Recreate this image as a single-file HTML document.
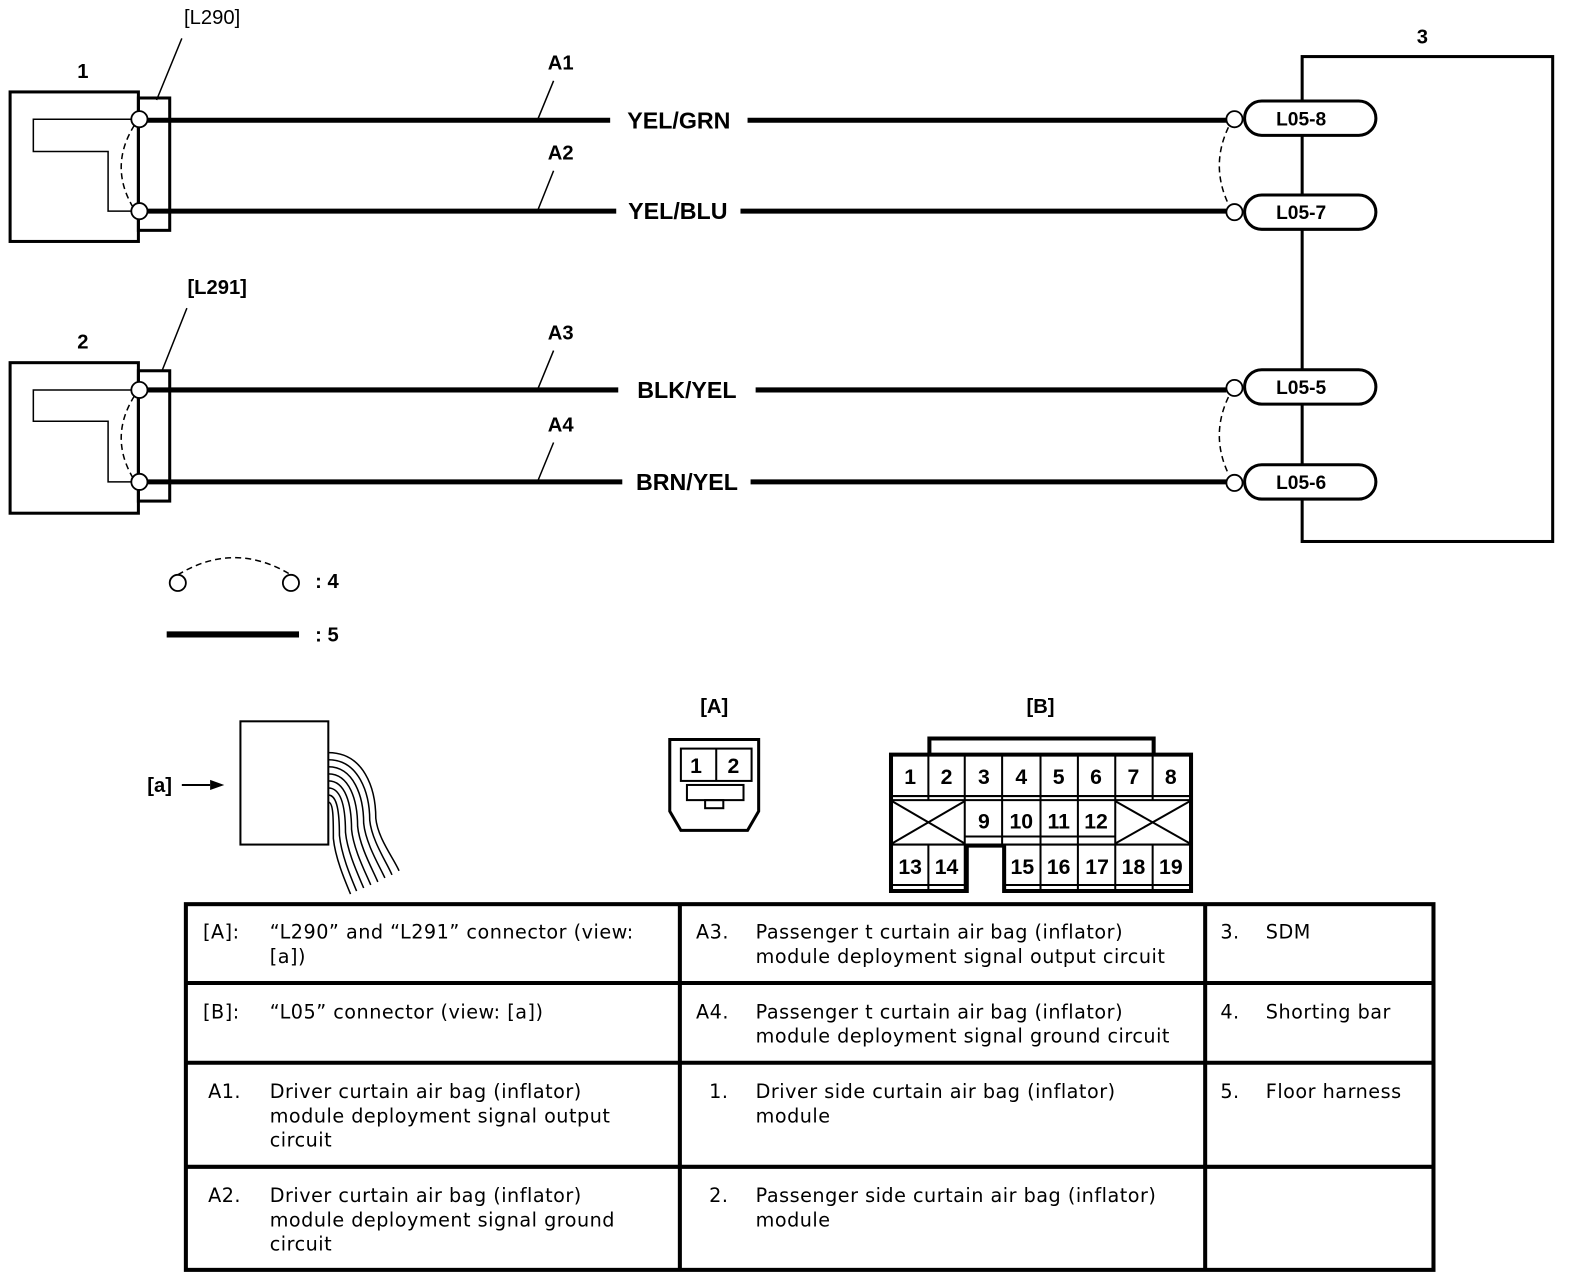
<!DOCTYPE html>
<html><head><meta charset="utf-8"><style>
html,body{margin:0;padding:0;background:#fff;}
svg{display:block;}
.b{font-family:"Liberation Sans",Arial,sans-serif;font-weight:bold;fill:#000;}
.t{font-family:"DejaVu Sans",Verdana,sans-serif;font-size:19px;letter-spacing:0.5px;fill:#000;}
</style></head><body>
<svg width="1584" height="1282" viewBox="0 0 1568 1269" preserveAspectRatio="none" xmlns="http://www.w3.org/2000/svg">
<g fill="none" stroke="#000">
<rect x="10" y="91" width="127" height="148" stroke-width="3"/>
<rect x="137" y="97" width="31" height="131" stroke-width="3"/>
<polyline points="130,118 33,118 33,150 107,150 107,209 130,209" stroke-width="1.5"/>
<path d="M133,124 Q108,164 131,204" stroke-width="1.5" stroke-dasharray="6,4"/>
<line x1="180" y1="38" x2="155" y2="99" stroke-width="1.5"/>
<rect x="10" y="359" width="127" height="149" stroke-width="3"/>
<rect x="137" y="367" width="31" height="129" stroke-width="3"/>
<polyline points="130,386 33,386 33,417 107,417 107,477 130,477" stroke-width="1.5"/>
<path d="M133,392 Q108,432 131,472" stroke-width="1.5" stroke-dasharray="6,4"/>
<line x1="185" y1="305" x2="160" y2="368" stroke-width="1.5"/>
<g stroke-width="5">
<line x1="146" y1="119" x2="604" y2="119"/><line x1="740" y1="119" x2="1214" y2="119"/>
<line x1="146" y1="209" x2="610" y2="209"/><line x1="733" y1="209" x2="1214" y2="209"/>
<line x1="146" y1="386" x2="612" y2="386"/><line x1="748" y1="386" x2="1214" y2="386"/>
<line x1="146" y1="477" x2="616" y2="477"/><line x1="743" y1="477" x2="1214" y2="477"/>
</g>
<g stroke-width="1.5">
<line x1="548" y1="80" x2="532" y2="119"/>
<line x1="548" y1="169" x2="532" y2="209"/>
<line x1="548" y1="347" x2="532" y2="386"/>
<line x1="548" y1="438" x2="532" y2="477"/>
</g>
<rect x="1289" y="56" width="248" height="480" stroke-width="3" fill="#fff"/>
<g stroke-width="3" fill="#fff">
<rect x="1232" y="100" width="130" height="34" rx="17"/>
<rect x="1232" y="193" width="130" height="34" rx="17"/>
<rect x="1232" y="366" width="130" height="34" rx="17"/>
<rect x="1232" y="460" width="130" height="34" rx="17"/>
</g>
<path d="M1216,126 Q1198,164 1216,202" stroke-width="1.5" stroke-dasharray="6,4"/>
<path d="M1216,393 Q1198,431 1216,469" stroke-width="1.5" stroke-dasharray="6,4"/>
<g stroke-width="1.8" fill="#fff">
<circle cx="138" cy="118" r="8"/><circle cx="138" cy="209" r="8"/>
<circle cx="138" cy="386" r="8"/><circle cx="138" cy="477" r="8"/>
<circle cx="1222" cy="118" r="8"/><circle cx="1222" cy="210" r="8"/>
<circle cx="1222" cy="384" r="8"/><circle cx="1222" cy="478" r="8"/>
<circle cx="176" cy="577" r="8"/><circle cx="288" cy="577" r="8"/>
</g>
<path d="M176,569 Q232,535 288,569" stroke-width="1.5" stroke-dasharray="6,4"/>
<line x1="165" y1="628" x2="296" y2="628" stroke-width="6"/>
<line x1="180" y1="777" x2="208" y2="777" stroke-width="2"/>
<rect x="238" y="714" width="87" height="122" stroke-width="2"/>
<g stroke-width="1.5">
<path d="M325,745 C360,745 372,780 372,810 C374,830 390,850 395,862"/>
<path d="M325,752 C355,752 366,785 366,812 C368,832 383,854 388,866"/>
<path d="M325,759 C350,759 360,788 360,815 C362,835 376,858 381,869"/>
<path d="M325,766 C346,766 354,792 354,818 C356,838 369,861 374,873"/>
<path d="M325,773 C342,773 348,796 348,821 C350,841 362,864 367,876"/>
<path d="M325,780 C338,780 342,800 342,824 C344,844 355,867 360,879"/>
<path d="M325,787 C334,787 336,805 336,827 C338,847 348,870 353,882"/>
<path d="M325,794 C330,794 330,810 330,830 C332,850 342,873 347,885"/>
</g>
<path d="M663,732 H751 V803 L740,822 H674 L663,803 Z" stroke-width="3"/>
<rect x="674" y="741" width="70" height="32" stroke-width="2"/>
<line x1="709" y1="741" x2="709" y2="773" stroke-width="2"/>
<rect x="680" y="777" width="56" height="15" stroke-width="2"/>
<rect x="698" y="792" width="18" height="8" stroke-width="2"/>
<polyline points="920,746 920,731 1142,731 1142,746" stroke-width="4"/>
<path d="M882,747 H1179 V882 H994 V837 H957 V882 H882 Z" stroke-width="4"/>
<g stroke-width="2">
<line x1="882" y1="788" x2="1179" y2="788"/><line x1="882" y1="792" x2="1179" y2="792"/>
<line x1="882" y1="836" x2="1179" y2="836"/>
<line x1="919" y1="747" x2="919" y2="792"/><line x1="955" y1="747" x2="955" y2="882"/>
<line x1="992" y1="747" x2="992" y2="836"/><line x1="1030" y1="747" x2="1030" y2="836"/>
<line x1="1067" y1="747" x2="1067" y2="836"/><line x1="1104" y1="747" x2="1104" y2="836"/>
<line x1="1141" y1="747" x2="1141" y2="792"/>
<line x1="955" y1="828" x2="1104" y2="828"/>
<line x1="883" y1="793" x2="955" y2="835"/><line x1="955" y1="793" x2="883" y2="835"/>
<line x1="1104" y1="793" x2="1178" y2="835"/><line x1="1178" y1="793" x2="1104" y2="835"/>
<line x1="919" y1="836" x2="919" y2="882"/>
<line x1="1030" y1="836" x2="1030" y2="882"/><line x1="1067" y1="836" x2="1067" y2="882"/>
<line x1="1104" y1="836" x2="1104" y2="882"/><line x1="1141" y1="836" x2="1141" y2="882"/>
<line x1="882" y1="876" x2="957" y2="876"/><line x1="994" y1="876" x2="1179" y2="876"/>
</g>
<g stroke-width="4">
<rect x="184" y="895" width="1235" height="362"/>
<line x1="673" y1="895" x2="673" y2="1257"/><line x1="1193" y1="895" x2="1193" y2="1257"/>
<line x1="184" y1="973" x2="1419" y2="973"/><line x1="184" y1="1052" x2="1419" y2="1052"/>
<line x1="184" y1="1155" x2="1419" y2="1155"/>
</g>
</g>
<polygon points="208,772 222,777 208,782" fill="#000"/>
<g class="b" font-size="20" text-anchor="middle">
<text x="82" y="77">1</text><text x="82" y="345">2</text><text x="1408" y="43">3</text>
<text x="210" y="24" font-weight="normal">[L290]</text><text x="215" y="291">[L291]</text>
<text x="555" y="69">A1</text><text x="555" y="158">A2</text><text x="555" y="336">A3</text><text x="555" y="427">A4</text>
<text x="707" y="706">[A]</text><text x="1030" y="706">[B]</text>
<text x="158" y="784">[a]</text>
</g>
<g class="b" font-size="23" text-anchor="middle">
<text x="672" y="127">YEL/GRN</text><text x="671" y="217">YEL/BLU</text>
<text x="680" y="394">BLK/YEL</text><text x="680" y="485">BRN/YEL</text>
</g>
<g class="b" font-size="19" text-anchor="middle">
<text x="1288" y="124">L05-8</text><text x="1288" y="217">L05-7</text>
<text x="1288" y="390">L05-5</text><text x="1288" y="484">L05-6</text>
</g>
<g class="b" font-size="20"><text x="312" y="582">: 4</text><text x="312" y="635">: 5</text></g>
<g class="b" font-size="21" text-anchor="middle">
<text x="689" y="765">1</text><text x="726" y="765">2</text>
<text x="901" y="776">1</text><text x="937" y="776">2</text><text x="974" y="776">3</text><text x="1011" y="776">4</text>
<text x="1048" y="776">5</text><text x="1085" y="776">6</text><text x="1122" y="776">7</text><text x="1159" y="776">8</text>
<text x="974" y="820">9</text><text x="1011" y="820">10</text><text x="1048" y="820">11</text><text x="1085" y="820">12</text>
<text x="901" y="865">13</text><text x="937" y="865">14</text><text x="1012" y="865">15</text><text x="1048" y="865">16</text>
<text x="1086" y="865">17</text><text x="1122" y="865">18</text><text x="1159" y="865">19</text>
</g>
<g class="t">
<text x="201" y="929">[A]:</text><text x="267" y="929">“L290” and “L291” connector (view:</text><text x="267" y="953">[a])</text>
<text x="201" y="1008">[B]:</text><text x="267" y="1008">“L05” connector (view: [a])</text>
<text x="206" y="1087">A1.</text><text x="267" y="1087">Driver curtain air bag (inflator)</text><text x="267" y="1111">module deployment signal output</text><text x="267" y="1135">circuit</text>
<text x="206" y="1190">A2.</text><text x="267" y="1190">Driver curtain air bag (inflator)</text><text x="267" y="1214">module deployment signal ground</text><text x="267" y="1238">circuit</text>
<text x="689" y="929">A3.</text><text x="748" y="929">Passenger t curtain air bag (inflator)</text><text x="748" y="953">module deployment signal output circuit</text>
<text x="689" y="1008">A4.</text><text x="748" y="1008">Passenger t curtain air bag (inflator)</text><text x="748" y="1032">module deployment signal ground circuit</text>
<text x="702" y="1087">1.</text><text x="748" y="1087">Driver side curtain air bag (inflator)</text><text x="748" y="1111">module</text>
<text x="702" y="1190">2.</text><text x="748" y="1190">Passenger side curtain air bag (inflator)</text><text x="748" y="1214">module</text>
<text x="1208" y="929">3.</text><text x="1253" y="929">SDM</text>
<text x="1208" y="1008">4.</text><text x="1253" y="1008">Shorting bar</text>
<text x="1208" y="1087">5.</text><text x="1253" y="1087">Floor harness</text>
</g>
</svg>
</body></html>
